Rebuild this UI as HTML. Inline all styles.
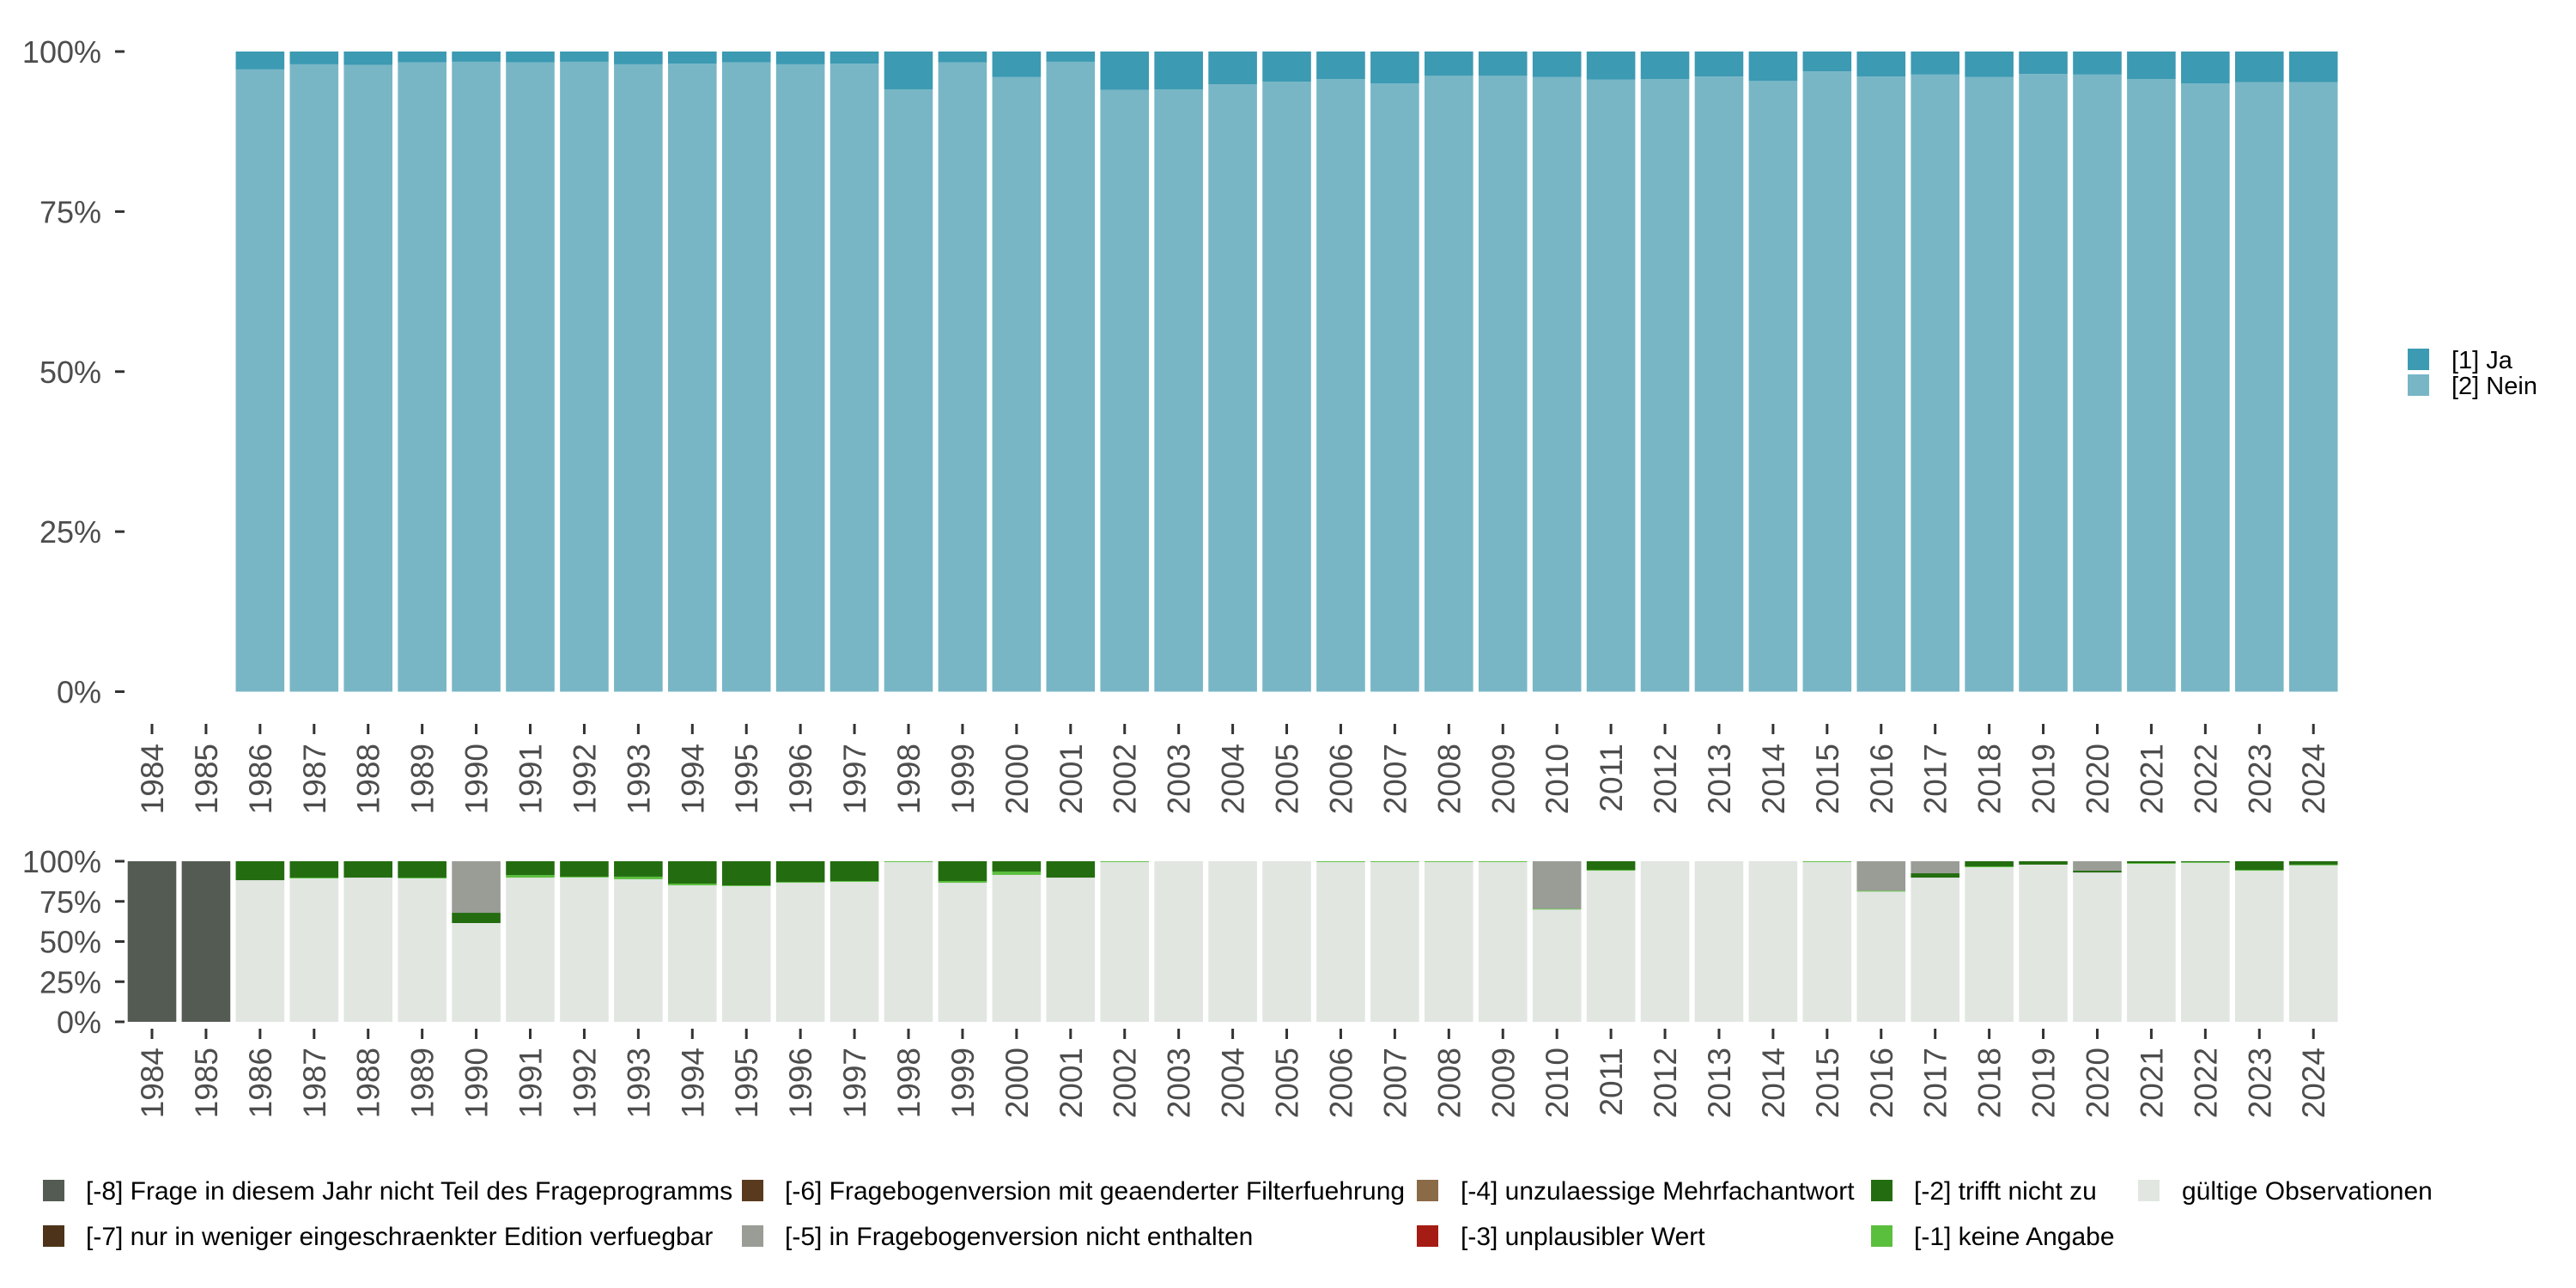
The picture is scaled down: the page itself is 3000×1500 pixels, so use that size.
<!DOCTYPE html>
<html><head><meta charset="utf-8"><style>
body{margin:0;background:#fff}
svg{display:block;font-family:"Liberation Sans","DejaVu Sans",sans-serif}
</style></head><body>
<svg id="c" width="3000" height="1500" viewBox="0 0 3000 1500" xmlns="http://www.w3.org/2000/svg">
<g id="topChart"></g>
<g id="botChart"></g>
<g id="legGroup"></g>
</svg>
<script>
const years=[1984,1985,1986,1987,1988,1989,1990,1991,1992,1993,1994,1995,1996,1997,1998,1999,2000,2001,2002,2003,2004,2005,2006,2007,2008,2009,2010,2011,2012,2013,2014,2015,2016,2017,2018,2019,2020,2021,2022,2023,2024];
const jaShare=[null,null,2.8,2.0,2.1,1.7,1.6,1.7,1.6,2.0,1.9,1.7,2.0,1.9,5.9,1.7,4.0,1.6,6.0,5.9,5.1,4.7,4.3,5.0,3.8,3.8,4.0,4.4,4.3,3.9,4.6,3.1,3.9,3.6,4.0,3.5,3.6,4.3,5.0,4.8,4.8];
const m8=[100,100,0,0,0,0,0,0,0,0,0,0,0,0,0,0,0,0,0,0,0,0,0,0,0,0,0,0,0,0,0,0,0,0,0,0,0,0,0,0,0];
const m5=[0,0,0,0,0,0,32.1,0,0,0,0,0,0,0,0,0,0,0,0,0,0,0,0,0,0,0,29.6,0,0,0,0,0,18.4,7.5,0,0,5.9,0,0,0,0];
const m2=[0,0,11.8,10.2,10.2,10.2,6.4,8.6,9.6,9.6,13.9,15.0,12.9,12.3,0,12.3,6.4,10.2,0,0,0,0,0,0,0,0,0,5.4,0,0,0,0,0,2.7,3.2,2.1,1.1,1.1,0.5,5.4,2.1];
const m1=[0,0,0,0.5,0,0.5,0,1.6,0.5,1.6,1.1,0.5,0.5,0.5,0.5,1.1,2.1,0,0.5,0,0,0,0.5,0.5,0.5,0.5,0.5,0.5,0,0,0,0.5,0.5,0,0.5,0,0,0.5,0.5,0.5,0.5];
const yTicks=[0,25,50,75,100];

const NS="http://www.w3.org/2000/svg";
function mk(tag,attrs,parent){const e=document.createElementNS(NS,tag);for(const k in attrs)e.setAttribute(k,attrs[k]);parent.appendChild(e);return e;}
const step=62.93, x0=177, bw=56.6;
function xc(i){return x0+i*step;}
function yTop(v){return 805.5-v/100*745.5;}
function yBot(v){return 1190-v/100*187;}
const gTop=document.getElementById('topChart'), gBot=document.getElementById('botChart'), gLeg=document.getElementById('legGroup');

function axes(g,yf,tickY,labY,name){
  yTicks.forEach(t=>{
    const l=mk('line',{x1:134,x2:145,y1:yf(t),y2:yf(t),stroke:'#333','stroke-width':3},g);
    
    
    const tx=mk('text',{x:118,y:yf(t)+13,'text-anchor':'end','font-size':36,fill:'#4d4d4d'},g);
    tx.textContent=t+'%';
    
    
  });
  years.forEach((yr,i)=>{
    const l=mk('line',{x1:xc(i),x2:xc(i),y1:tickY,y2:tickY+12,stroke:'#333','stroke-width':3},g);
    
    
    const tx=mk('text',{x:0,y:0,'text-anchor':'end','font-size':37,fill:'#4d4d4d',transform:`translate(${xc(i)+13},${labY}) rotate(-90)`},g);
    tx.textContent=yr;
    
    
  });
}
axes(gTop,yTop,843,866,'top');
axes(gBot,yBot,1198,1220,'bottom');

function rect(g,x,y0,y1,fill,name){
  if(Math.abs(y1-y0)<0.01)return;
  const r=mk('rect',{x:x-bw/2,y:Math.min(y0,y1),width:bw,height:Math.abs(y1-y0),fill:fill},g);
  
  
}
years.forEach((yr,i)=>{
  if(jaShare[i]===null)return;
  const ja=jaShare[i];
  rect(gTop,xc(i),yTop(0),yTop(100-ja),'#78b6c6','bar-nein-'+yr);
  rect(gTop,xc(i),yTop(100-ja),yTop(100),'#3c9ab2','bar-ja-'+yr);
});
years.forEach((yr,i)=>{
  const valid=100-m8[i]-m5[i]-m2[i]-m1[i];
  let c=0;
  [[valid,'#e1e6e1','valid'],[m1[i],'#5bbf3e','m1'],[m2[i],'#236d10','m2'],[m5[i],'#999d96','m5'],[m8[i],'#545b53','m8']].forEach(s=>{
    rect(gBot,xc(i),yBot(c),yBot(c+s[0]),s[1],'bar-'+s[2]+'-'+yr);
    c+=s[0];
  });
});

function key(x,y,fill,label,tx,fs,name){
  const r=mk('rect',{x:x,y:y,width:25,height:25,fill:fill},gLeg);
  
  
  const t=mk('text',{x:tx,y:y+23,'font-size':fs,fill:'#000'},gLeg);
  t.textContent=label;
  
  
}
key(2804,406,'#3c9ab2','[1] Ja',2855,29,'legend-ja');
key(2804,436,'#78b6c6','[2] Nein',2855,29,'legend-nein');
key(50,1374,'#545b53','[-8] Frage in diesem Jahr nicht Teil des Frageprogramms',100,30,'legend-m8');
key(50,1427,'#4d3319','[-7] nur in weniger eingeschraenkter Edition verfuegbar',100,30,'legend-m7');
key(864,1374,'#5a3a1e','[-6] Fragebogenversion mit geaenderter Filterfuehrung',914,30,'legend-m6');
key(864,1427,'#999d96','[-5] in Fragebogenversion nicht enthalten',914,30,'legend-m5');
key(1650,1374,'#8b6a47','[-4] unzulaessige Mehrfachantwort',1701,30,'legend-m4');
key(1650,1427,'#a51c14','[-3] unplausibler Wert',1701,30,'legend-m3');
key(2179,1374,'#236d10','[-2] trifft nicht zu',2229,30,'legend-m2');
key(2179,1427,'#5bbf3e','[-1] keine Angabe',2229,30,'legend-m1');
key(2490,1374,'#e1e6e1','gültige Observationen',2541,30,'legend-valid');
</script>
</body></html>
